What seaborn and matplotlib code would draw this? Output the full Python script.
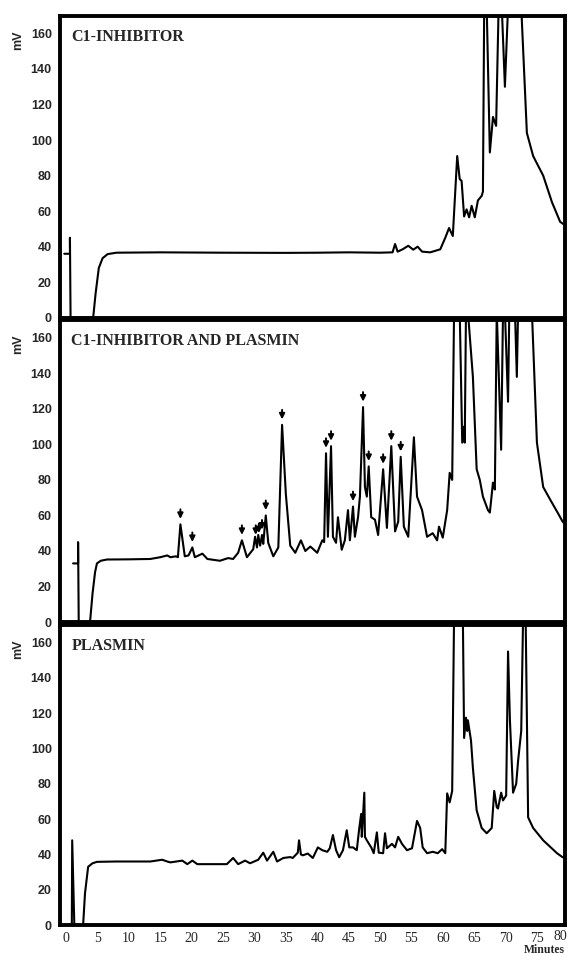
import numpy as np
import pandas as pd
import matplotlib
matplotlib.use("Agg")
import matplotlib.pyplot as plt
import matplotlib.transforms as mtransforms
import seaborn as sns

# Chromatogram traces (minutes, mV); 175 = off scale
c1_time = [-0.3, 0.6, 0.6, 0.7, 4.3, 4.7, 5.2, 5.8, 6.6, 8, 15, 25, 35, 40, 45, 50,
           52.0, 52.4, 52.8, 53.6, 54.5, 55.3, 56.0, 56.7, 58, 59.6, 60.4, 61.0, 61.6,
           62.3, 62.7, 63.0, 63.4, 63.8, 64.2, 64.6, 65.1, 65.6, 66.2, 66.4, 66.6, 67.0,
           67.5, 68.0, 68.5, 68.6, 68.9, 69.4, 69.9, 70.4, 72.5, 73.4, 74.4, 76.0, 77.4,
           78.7, 79.5]
c1_mv = [36, 36, 45, 0, 0, 14, 28, 33.5, 35.8, 36.6, 36.8, 36.6, 36.5, 36.6, 36.8, 36.6,
         36.8, 41.5, 37.2, 38.5, 40.5, 38.3, 40, 37.2, 36.8, 38.5, 45, 50.5, 46,
         91, 78, 77, 57, 61, 56.5, 63, 56.5, 66, 68.6, 71, 175, 175,
         93, 113, 108, 125, 175, 175, 130, 175, 175, 104, 91, 80, 65,
         54, 52]

mix_time = [1.1, 1.9, 1.9, 2.0, 3.8, 4.2, 4.6, 4.9, 5.5, 6.5, 10, 13.4, 15.0, 16.1, 16.6,
            17.5, 17.8, 18.2, 18.9, 19.5, 20.1, 20.5, 21.7, 22.5, 24.5, 25.8, 26.6, 27.4,
            28.0, 28.8, 29.8, 30.1, 30.4, 30.6, 30.9, 31.2, 31.4, 31.8, 32.2, 33.0, 33.8,
            34.4, 35.0, 35.7, 36.5, 37.4, 38.1, 38.9, 40.0, 40.8, 41.1, 41.4, 41.7, 42.2,
            42.5, 43.0, 43.3, 43.9, 44.4, 44.9, 45.2, 45.7, 46.0, 46.5, 46.8, 47.3, 47.6,
            47.9, 48.2, 48.6, 49.2, 49.7, 50.5, 51.1, 51.8, 52.4, 52.9, 53.3, 53.8, 54.5,
            55.4, 55.9, 56.7, 57.5, 58.4, 59.1, 59.4, 60.0, 60.7, 61.1, 61.5, 61.8, 62.7,
            63.1, 63.4, 63.5, 63.7, 64.0, 64.8, 65.4, 65.9, 66.4, 67.2, 67.5, 68.0, 68.3,
            68.6, 69.3, 69.6, 69.9, 70.4, 70.6, 71.5, 71.8, 72.0, 74.2, 75.0, 76.0, 77.1,
            78.3, 79.1, 79.5]
mix_mv = [33, 33, 45, 0, 0, 16, 28, 33, 34.5, 35.2, 35.3, 35.5, 36.5, 37.5, 36.5,
          37, 36.5, 55, 37, 37.5, 42, 36.5, 38.5, 35.5, 34.5, 36, 35.5, 39,
          46, 36.5, 41, 48, 42, 49, 43, 49, 44, 60, 44.5, 37, 42,
          111, 72, 43, 39, 46, 40, 42.5, 39, 46, 45, 95, 48, 99,
          48, 44.6, 59, 40.7, 46, 63, 46, 65, 48, 59, 70.6, 121, 76,
          70.6, 87.6, 59, 57.6, 49, 86, 53, 99, 51, 56.5, 93, 53.7, 48,
          104, 70.6, 63, 48, 50, 46, 53.7, 47.5, 63, 84, 80, 175, 175,
          101, 110, 101, 175, 175, 138, 86, 80, 70.6, 63, 61.6, 78.5, 74.6,
          175, 97, 175, 175, 124, 175, 175, 138, 175, 175, 101, 76, 69,
          61.6, 56.5, 55]

pl_time = [0.9, 0.96, 1.3, 2.7, 3.0, 3.5, 4.2, 4.9, 8, 13.4, 15.3, 16.1, 16.6, 18.5, 19.3,
           20.1, 20.9, 22.5, 25.6, 26.6, 27.4, 28.5, 29.3, 30.6, 31.4, 32.0, 33.0, 33.6,
           34.6, 35.7, 36.1, 36.5, 36.9, 37.1, 37.4, 37.7, 38.5, 39.3, 40.1, 40.8, 41.6,
           42.0, 42.5, 43.0, 43.5, 44.1, 44.7, 45.1, 45.7, 46.3, 46.7, 47.0, 47.1, 47.5,
           47.6, 47.9, 48.6, 49.0, 49.5, 49.8, 50.5, 50.8, 51.1, 51.9, 52.4, 52.9, 53.5,
           54.3, 55.1, 55.9, 56.4, 56.8, 57.5, 58.4, 59.2, 59.9, 60.4, 60.7, 61.1, 61.5,
           61.8, 63.2, 63.4, 63.7, 63.9, 64.0, 64.5, 64.8, 65.4, 66.2, 67.0, 67.8, 68.2,
           68.6, 68.8, 69.3, 69.6, 70.1, 70.4, 70.7, 71.2, 71.7, 72.0, 72.5, 72.8, 73.2,
           73.6, 74.4, 76.0, 78.2, 79.1, 79.6]
pl_mv = [0, 48, 0, 0, 18, 33, 35, 35.8, 36, 36, 37, 36, 35.5, 36.5, 34.5,
         36.5, 34.5, 34.5, 34.5, 38, 34.5, 36.5, 35, 37, 41, 36.5, 41.5, 36,
         38, 38.5, 38, 39.5, 41, 48, 40, 39.5, 40.5, 38, 44, 42.4, 41.5,
         43.5, 51, 42.4, 38.4, 42.4, 53.7, 44, 44, 42.4, 55, 63, 50, 75,
         50, 48, 44, 40.7, 52.5, 41, 40.7, 52, 43.5, 46, 44, 50, 46,
         42.4, 43.5, 59, 55, 44, 40.7, 41.5, 40.7, 43, 40.7, 74.6, 69.5, 76,
         175, 175, 106, 117.5, 110, 116, 104.5, 89, 65, 55, 52, 55, 76,
         66.7, 66, 75, 70.6, 73.4, 155, 116, 75, 80, 93, 110, 175, 175,
         61, 55, 48, 40.7, 38.4, 38.5]

# peaks marked with arrows in the middle trace
arrow_times = [18.2, 20.1, 28.0, 30.2, 30.7, 31.2, 31.8, 34.4, 41.4, 42.2,
               45.7, 47.3, 48.2, 50.5, 51.8, 53.3]

panel_titles = ["C1-INHIBITOR", "C1-INHIBITOR AND PLASMIN", "PLASMIN"]
y_ticks = [0, 20, 40, 60, 80, 100, 120, 140, 160]
x_ticks = list(range(0, 80, 5))

sns.set_style("white")
plt.rcParams["font.family"] = ["Liberation Serif", "DejaVu Serif"]

fig = plt.figure(figsize=(5.68, 9.57), dpi=100)
positions = [[0.106, 0.668, 0.889, 0.3156],
             [0.106, 0.350, 0.889, 0.3156],
             [0.106, 0.0334, 0.889, 0.3135]]
traces = [(c1_time, c1_mv), (mix_time, mix_mv), (pl_time, pl_mv)]

axes = []
for i, (pos, (t, mv)) in enumerate(zip(positions, traces)):
    ax = fig.add_axes(pos)
    df = pd.DataFrame({"Minutes": t, "mV": mv})
    sns.lineplot(data=df, x="Minutes", y="mV", sort=False, estimator=None,
                 color="black", linewidth=1.5, ax=ax)
    ax.set_xlim(-0.95, 79.5)
    ax.set_ylim(0, 170)
    ax.set_yticks(y_ticks)
    ax.set_yticklabels([str(v) for v in y_ticks], family="Liberation Sans",
                       fontweight="bold", fontsize=9)
    ax.tick_params(axis="y", direction="out", length=5, width=1.6, pad=1)
    for s in ax.spines.values():
        s.set_visible(True)
        s.set_linewidth(2.8)
        s.set_color("black")
    ax.set_xlabel("")
    ax.set_ylabel("")
    ax.text(-0.083, 0.92, "mV", transform=ax.transAxes, rotation=90,
            ha="center", va="center", family="Liberation Sans",
            fontweight="bold", fontsize=9)
    ax.text(0.022, 0.93, panel_titles[i], transform=ax.transAxes,
            ha="left", va="center", fontsize=11.5, fontweight="bold")
    if i < 2:
        ax.set_xticks([])
    else:
        ax.set_xticks(x_ticks)
        ax.set_xticklabels([str(v) for v in x_ticks], fontsize=10)
        ax.tick_params(axis="x", direction="out", length=4, width=1.6, pad=1)
        # the 80 label sits against the right edge of the page
        trans = mtransforms.blended_transform_factory(fig.transFigure, ax.transAxes)
        ax.text(0.998, -0.0165, "80", transform=trans, ha="right", va="top",
                fontsize=10, clip_on=False)
    axes.append(ax)

# arrows over the new peaks in the mixture trace
ax2 = axes[1]
for at in arrow_times:
    peak = np.interp(at, mix_time, mix_mv)
    ax2.annotate("", xy=(at, peak + 1.5), xytext=(at, peak + 10),
                 arrowprops=dict(arrowstyle="-|>", color="black", lw=1.4,
                                 mutation_scale=8))

fig.text(0.995, 0.001, "Minutes", ha="right", va="bottom", fontsize=8.5,
         fontweight="bold")

fig.savefig("out.png", dpi=100)
